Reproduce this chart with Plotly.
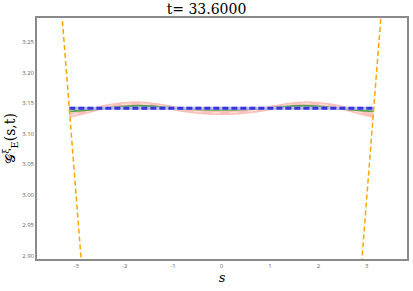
import plotly.graph_objects as go

s_pink = [-3.1416, -2.9, -2.6, -2.3, -2.0, -1.7, -1.4, -1.1, -0.8, -0.5, -0.2, 0.0,
          0.2, 0.5, 0.8, 1.1, 1.4, 1.7, 2.0, 2.3, 2.6, 2.9, 3.1416]
g_pink = [3.129, 3.134, 3.140, 3.145, 3.148, 3.149, 3.147, 3.143, 3.139, 3.136, 3.134, 3.134,
          3.134, 3.136, 3.139, 3.143, 3.147, 3.149, 3.148, 3.145, 3.140, 3.134, 3.129]
s_green = [-3.1416, -2.6, -2.0, -1.7, -1.4, -1.0, -0.5, 0.0, 0.5, 1.0, 1.4, 1.7, 2.0, 2.6, 3.1416]
g_green = [3.136, 3.140, 3.1445, 3.1455, 3.1445, 3.142, 3.140, 3.139, 3.140, 3.142, 3.1445, 3.1455, 3.1445, 3.140, 3.136]
s_blue = [-3.1416, 3.1416]
g_blue = [3.1416, 3.1416]
s_orange_left = [-3.31, -2.88]
g_orange_left = [3.31, 2.875]
s_orange_right = [2.88, 3.31]
g_orange_right = [2.875, 3.31]

x_ticks = [-3, -2, -1, 0, 1, 2, 3]
y_ticks = [2.90, 2.95, 3.00, 3.05, 3.10, 3.15, 3.20, 3.25]

fig = go.Figure()
fig.add_trace(go.Scatter(x=s_pink, y=g_pink, mode="lines",
                         line=dict(color="rgba(248,140,128,0.55)", width=4.5, shape="spline")))
fig.add_trace(go.Scatter(x=s_pink, y=g_pink, mode="lines",
                         line=dict(color="rgba(255,228,222,0.8)", width=1.5, dash="dash", shape="spline")))
fig.add_trace(go.Scatter(x=s_green, y=g_green, mode="lines",
                         line=dict(color="rgba(60,150,60,0.85)", width=2, shape="spline")))
fig.add_trace(go.Scatter(x=s_blue, y=g_blue, mode="lines",
                         line=dict(color="rgb(185,185,245)", width=3)))
fig.add_trace(go.Scatter(x=s_blue, y=g_blue, mode="lines",
                         line=dict(color="rgb(55,55,215)", width=3, dash="6px,3px")))
fig.add_trace(go.Scatter(x=s_orange_left, y=g_orange_left, mode="lines",
                         line=dict(color="orange", width=1.5, dash="5px,3px")))
fig.add_trace(go.Scatter(x=s_orange_right, y=g_orange_right, mode="lines",
                         line=dict(color="orange", width=1.5, dash="5px,3px")))

axis_common = dict(showgrid=False, zeroline=False, showline=True, linecolor="#8a8a8a",
                   linewidth=1.5, mirror=True, ticks="", tickfont=dict(size=6, color="#666"))
fig.update_layout(
    width=413, height=291,
    margin=dict(l=37, r=4, t=18, b=32),
    plot_bgcolor="white", paper_bgcolor="white",
    showlegend=False,
    title=dict(text="t= 33.6000", x=0.5, xanchor="center", y=0.985, yanchor="top",
               font=dict(family="DejaVu Serif", size=14, color="black")),
    xaxis=dict(range=[-3.81, 3.83], tickvals=x_ticks, ticktext=[str(v) for v in x_ticks],
               title=dict(text="<i>s</i>", font=dict(family="DejaVu Serif", size=13, color="black"),
                          standoff=3), **axis_common),
    yaxis=dict(range=[2.895, 3.289], tickvals=y_ticks, ticktext=["%.2f" % v for v in y_ticks],
               title=dict(text="𝒢<sup>ξ</sup><sub>E</sub>(s,t)",
                          font=dict(family="DejaVu Serif", size=14, color="black"), standoff=4),
               **axis_common),
)
fig.write_html("out.html", config={"displayModeBar": False},
               post_script="document.body.style.margin='0px';document.body.style.overflow='hidden';")
